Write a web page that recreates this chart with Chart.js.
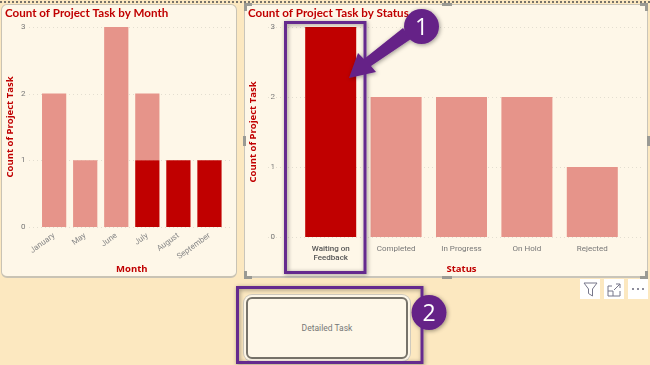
<!DOCTYPE html>
<html>
<head>
<meta charset="utf-8">
<script src="https://cdn.jsdelivr.net/npm/chart.js@4"></script>
<style>
  html, body { margin: 0; padding: 0; }
  body { width: 650px; height: 365px; background: #fce8c0; position: relative; overflow: hidden; font-family: "Open Sans", sans-serif; }
  .panel { position: absolute; background: #fef7e8; box-sizing: border-box; }
  #panelMonth { left: 1px; top: 4px; width: 236px; height: 274px; border: 1px solid #c9c3b4; border-bottom-width: 2px; border-radius: 6px; }
  #panelStatus { left: 244px; top: 4px; width: 404px; height: 274px; border: 1px solid #c9c5ba; border-bottom-width: 2px; }
  .wrap { position: absolute; }
  #wrapMonth { left: 1px; top: 2px; width: 236px; height: 276px; }
  #wrapStatus { left: 244px; top: -4px; width: 404px; height: 282px; }
  #dots { position: absolute; left: 0; top: 1px; width: 650px; border-top: 2px dotted #77736a; }
  #button { position: absolute; left: 246px; top: 297px; width: 162px; height: 62px; box-sizing: border-box; background: #fef7e8; border: 2px solid #77736a; border-radius: 6px; box-shadow: 0 0 0 2px #fef7e8, 0 0 0 3px #cfcabd; text-align: center; line-height: 58px; font-family: Roboto, sans-serif; font-size: 8.5px; color: #777; }
  .icon { position: absolute; top: 279px; width: 20px; height: 20px; background: #fff; }
  svg { position: absolute; left: 0; top: 0; }
</style>
</head>
<body>
<div class="panel" id="panelMonth"></div>
<div class="panel" id="panelStatus"></div>
<div id="dots"></div>
<div class="wrap" id="wrapMonth"><canvas id="chartMonth"></canvas></div>
<div class="wrap" id="wrapStatus"><canvas id="chartStatus"></canvas></div>
<div id="button">Detailed Task</div>
<div class="icon" style="left:580px"></div>
<div class="icon" style="left:604px"></div>
<div class="icon" style="left:628px"></div>

<svg width="650" height="365" viewBox="0 0 650 365">
  <defs>
    <filter id="shadow" x="-30%" y="-30%" width="160%" height="160%">
      <feDropShadow dx="1" dy="1" stdDeviation="2" flood-color="#000" flood-opacity="0.4"/>
    </filter>
  </defs>
  <!-- resize handles -->
  <g fill="#9a9a94">
    <rect x="244" y="3" width="8" height="3"/><rect x="244" y="3" width="3" height="8"/>
    <rect x="442" y="3" width="10" height="3"/>
    <rect x="640" y="3" width="8" height="3"/><rect x="645" y="3" width="3" height="8"/>
    <rect x="243" y="136" width="3" height="10"/><rect x="647" y="136" width="3" height="10"/>
    <rect x="244" y="276" width="8" height="3"/><rect x="244" y="271" width="3" height="8"/>
    <rect x="442" y="276" width="10" height="3"/>
    <rect x="640" y="276" width="8" height="3"/><rect x="645" y="271" width="3" height="8"/>
  </g>
  <!-- toolbar icons -->
  <path d="M584 283 H597 L592.5 289 V296 L588.5 293.5 V289 Z" fill="none" stroke="#77778a" stroke-width="1"/>
  <g fill="none" stroke="#77778a" stroke-width="1">
    <path d="M612 286 H608 V296 H620 V291"/><path d="M608 291 H613 V296"/><path d="M614 290 L620 284 M616 284 H620 V288"/>
  </g>
  <g fill="#66667a"><circle cx="633" cy="289" r="1"/><circle cx="638" cy="289" r="1"/><circle cx="643" cy="289" r="1"/></g>
  <!-- annotations -->
  <g filter="url(#shadow)">
    <rect x="285.5" y="22.5" width="79.5" height="250" fill="none" stroke="#652a8e" stroke-width="3"/>
    <rect x="237.5" y="287.5" width="184.5" height="75" fill="none" stroke="#652a8e" stroke-width="3"/>
    <path d="M403 28 L411 39 L371 66 L376 72 L349 78 L358 53 L364 59 Z" fill="#652387"/>
    <circle cx="421.5" cy="26.5" r="17.5" fill="#652387"/>
    <circle cx="429" cy="312.5" r="17.5" fill="#652387"/>
  </g>
  <text x="421.5" y="34.5" text-anchor="middle" fill="#fff" font-size="23" font-family="Open Sans">1</text>
  <text x="429" y="320.5" text-anchor="middle" fill="#fff" font-size="23" font-family="Open Sans">2</text>
</svg>

<script>
// data
const months = ['January', 'May', 'June', 'July', 'August', 'September'];
const monthHighlighted = [0, 0, 0, 1, 1, 1];
const monthRest = [2, 1, 3, 1, 0, 0];

const statuses = [['Waiting on', 'Feedback'], 'Completed', 'In Progress', 'On Hold', 'Rejected'];
const statusHighlighted = [3, 0, 0, 0, 0];
const statusRest = [0, 2, 2, 2, 1];

const yTicks = [0, 1, 2, 3];

const red = '#c00000';
const paleRed = '#e6948a';
const titleFont = { family: 'Lato', size: 11.6, weight: 'bold' };
const axisFont = { family: 'Open Sans', size: 9.5, weight: 'bold' };
const tickFont = { family: 'Roboto', size: 8 };

// dotted gridlines run past the bars on both sides
const dottedGrid = {
    id: 'dottedGrid',
    beforeDatasetsDraw(chart, args, opts) {
        const ctx = chart.ctx;
        ctx.save();
        ctx.strokeStyle = '#e3ded0';
        ctx.lineWidth = 1;
        ctx.setLineDash([1, 3]);
        yTicks.forEach(function (v) {
            const y = Math.round(chart.scales.y.getPixelForValue(v)) + 0.5;
            ctx.beginPath();
            ctx.moveTo(opts.from, y);
            ctx.lineTo(opts.to, y);
            ctx.stroke();
        });
        ctx.restore();
    }
};

function makeChart(id, cfg) {
    return new Chart(document.getElementById(id), {
        type: 'bar',
        plugins: [dottedGrid],
        data: {
            labels: cfg.labels,
            datasets: [
                { data: cfg.highlighted, backgroundColor: red, borderWidth: 0 },
                { data: cfg.rest, backgroundColor: paleRed, borderWidth: 0 }
            ]
        },
        options: {
            responsive: true,
            maintainAspectRatio: false,
            animation: false,
            categoryPercentage: 1,
            barPercentage: cfg.barPercentage,
            layout: { padding: cfg.padding },
            plugins: {
                legend: { display: false },
                tooltip: { enabled: false },
                dottedGrid: { from: cfg.gridFrom, to: cfg.gridTo },
                title: {
                    display: true,
                    text: cfg.title,
                    align: 'start',
                    color: red,
                    font: titleFont,
                    padding: { top: 0, bottom: cfg.titleGap }
                }
            },
            scales: {
                x: {
                    stacked: true,
                    grid: { display: false, drawTicks: false },
                    border: { display: false },
                    afterFit: function (scale) { scale.height = cfg.xHeight; },
                    title: { display: true, text: cfg.xTitle, color: red, font: axisFont, padding: { top: 0, bottom: 0 } },
                    ticks: {
                        color: cfg.tickColor,
                        font: cfg.tickFont,
                        maxRotation: cfg.rotation,
                        minRotation: cfg.rotation,
                        padding: cfg.tickPad
                    }
                },
                y: {
                    stacked: true,
                    min: 0,
                    max: 3,
                    grid: { display: false, drawTicks: false },
                    border: { display: false },
                    afterFit: function (scale) { scale.width = cfg.yWidth; },
                    title: { display: true, text: 'Count of Project Task', color: red, font: axisFont, padding: 0 },
                    ticks: {
                        color: '#777',
                        stepSize: 1,
                        font: tickFont,
                        padding: cfg.yTickPad
                    }
                }
            }
        }
    });
}

makeChart('chartMonth', {
    labels: months, highlighted: monthHighlighted, rest: monthRest,
    title: 'Count of Project Task by Month', xTitle: 'Month',
    barPercentage: 0.78, rotation: 36, tickPad: 4, yTickPad: 13,
    padding: { left: 4, right: 12, top: 4, bottom: 3 },
    titleGap: 7, xHeight: 48, yWidth: 33.6,
    gridFrom: 28, gridTo: 232,
    tickColor: '#888', tickFont: tickFont
});

makeChart('chartStatus', {
    labels: statuses, highlighted: statusHighlighted, rest: statusRest,
    title: 'Count of Project Task by Status', xTitle: 'Status',
    barPercentage: 0.78, rotation: 0, tickPad: 7, yTickPad: 23,
    padding: { left: 4, right: 23, top: 10, bottom: 3 },
    titleGap: 7, xHeight: 38, yWidth: 50,
    gridFrom: 24, gridTo: 400,
    tickColor: function (c) { return c.index === 0 ? '#555' : '#777'; },
    tickFont: function (c) { return { family: 'Roboto', size: 8, weight: c.index === 0 ? '500' : 'normal' }; }
});
</script>
</body>
</html>
